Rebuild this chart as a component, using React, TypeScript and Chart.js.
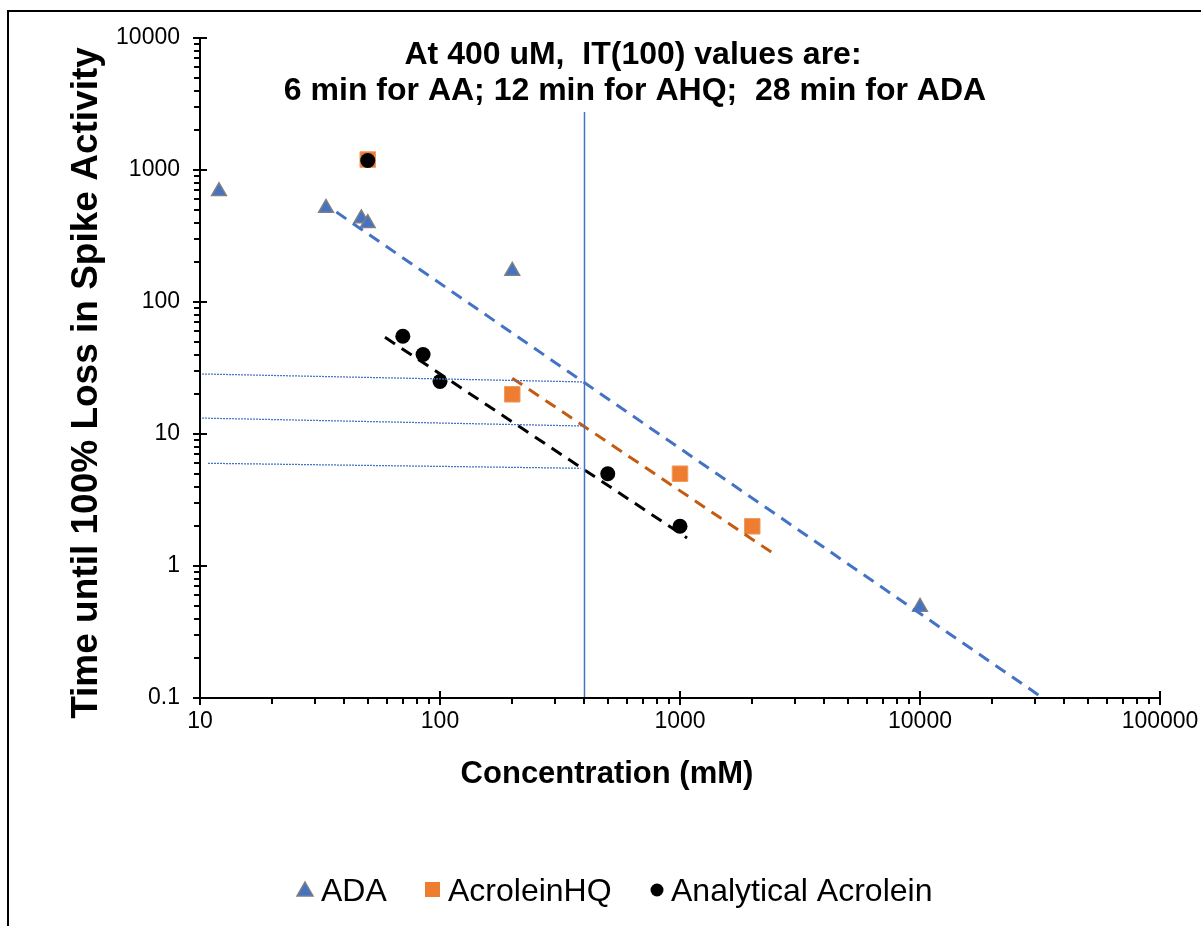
import React, { useEffect, useRef } from 'react';
import { Chart, registerables } from 'chart.js';

Chart.register(...registerables);

// ---- data ----
const seriesNames = ['ADA', 'AcroleinHQ', 'Analytical Acrolein'];

const adaX = [12, 33.5, 47, 50, 200, 10000];
const adaY = [690, 515, 430, 395, 172, 0.49];

const ahqX = [50, 200, 1000, 2000];
const ahqY = [1200, 20, 5, 2];

const aaX = [50, 70, 85, 100, 500, 1000];
const aaY = [1180, 55, 40, 25, 5, 2];

// power trend lines (end points)
const adaTrendX = [37, 32500];
const adaTrendY = [480, 0.1];
const ahqTrendX = [200, 2440];
const ahqTrendY = [26.5, 1.25];
const aaTrendX = [59, 1070];
const aaTrendY = [54, 1.63];

// hand-drawn reference lines
const refVX = [400, 400];
const refVY = [2750, 0.1];
const refAdaX = [10.2, 394];
const refAdaY = [28.5, 24.8];
const refAhqX = [10.2, 390];
const refAhqY = [13.2, 11.5];
const refAaX = [10.8, 385];
const refAaY = [6.0, 5.5];

const xTicks = [10, 100, 1000, 10000, 100000];
const xTickLabels = ['10', '100', '1000', '10000', '100000'];
const yTicks = [0.1, 1, 10, 100, 1000, 10000];
const yTickLabels = ['0.1', '1', '10', '100', '1000', '10000'];

const titleLines = ['At 400 uM,  IT(100) values are:', '6 min for AA; 12 min for AHQ;  28 min for ADA'];
const xTitle = 'Concentration (mM)';
const yTitle = 'Time until 100% Loss in Spike Activity';

const FONT = '"Liberation Sans", Arial, sans-serif';
const BLUE = '#4472C4';
const ORANGE = '#ED7D31';
const ORANGE_DARK = '#C55A11';

const pts = (xs: number[], ys: number[]) => xs.map((x, i) => ({ x, y: ys[i] }));

const overlayPlugin = {
  id: 'overlay',
  afterDraw(chart: any) {
    const { ctx } = chart;
    const xs = chart.scales.x;
    const ys = chart.scales.y;
    ctx.save();
    // outer frame
    ctx.strokeStyle = '#000';
    ctx.lineWidth = 2;
    ctx.beginPath();
    ctx.moveTo(8, 926);
    ctx.lineTo(8, 11);
    ctx.lineTo(1201, 11);
    ctx.stroke();

    // axes
    const ax = Math.round(xs.getPixelForValue(xTicks[0]));
    const ay = Math.round(ys.getPixelForValue(yTicks[0]));
    const yTop = ys.getPixelForValue(yTicks[yTicks.length - 1]);
    const xRight = xs.getPixelForValue(xTicks[xTicks.length - 1]);
    ctx.lineWidth = 2;
    ctx.beginPath();
    ctx.moveTo(ax, yTop - 1);
    ctx.lineTo(ax, ay);
    ctx.lineTo(xRight + 1, ay);
    ctx.stroke();

    // x ticks
    ctx.beginPath();
    xTicks.forEach((v, i) => {
      const px = Math.round(xs.getPixelForValue(v));
      ctx.moveTo(px, ay - 7);
      ctx.lineTo(px, ay + 7);
      if (i < xTicks.length - 1) {
        for (let m = 2; m <= 9; m++) {
          const p = Math.round(xs.getPixelForValue(v * m));
          ctx.moveTo(p, ay);
          ctx.lineTo(p, ay + 6);
        }
      }
    });
    // y ticks
    yTicks.forEach((v, i) => {
      const py = Math.round(ys.getPixelForValue(v));
      ctx.moveTo(ax - 7, py);
      ctx.lineTo(ax + 7, py);
      if (i < yTicks.length - 1) {
        for (let m = 2; m <= 9; m++) {
          const p = Math.round(ys.getPixelForValue(v * m));
          ctx.moveTo(ax - 6, p);
          ctx.lineTo(ax, p);
        }
      }
    });
    ctx.stroke();

    // titles
    ctx.fillStyle = '#000';
    ctx.textAlign = 'center';
    ctx.textBaseline = 'alphabetic';
    ctx.font = `bold 32px ${FONT}`;
    ctx.fillText(titleLines[0], 633, 64);
    ctx.fillText(titleLines[1], 635, 100);
    ctx.font = `bold 31px ${FONT}`;
    ctx.fillText(xTitle, 607, 783);

    ctx.save();
    ctx.translate(97, 383);
    ctx.rotate(-Math.PI / 2);
    ctx.font = `bold 37px ${FONT}`;
    ctx.fillText(yTitle, 0, 0);
    ctx.restore();

    // legend
    const ly = 890;
    ctx.textAlign = 'left';
    ctx.font = `32px ${FONT}`;
    // triangle
    ctx.beginPath();
    ctx.moveTo(305, ly - 8);
    ctx.lineTo(313, ly + 6);
    ctx.lineTo(297, ly + 6);
    ctx.closePath();
    ctx.fillStyle = BLUE;
    ctx.fill();
    ctx.strokeStyle = '#7F7F7F';
    ctx.lineWidth = 1.5;
    ctx.stroke();
    ctx.fillStyle = '#000';
    ctx.fillText(seriesNames[0], 321, 901);
    // square
    ctx.fillStyle = ORANGE;
    ctx.fillRect(425, ly - 8, 15, 15);
    ctx.fillStyle = '#000';
    ctx.fillText(seriesNames[1], 448, 901);
    // circle
    ctx.beginPath();
    ctx.arc(657, ly, 6.5, 0, Math.PI * 2);
    ctx.fill();
    ctx.fillText(seriesNames[2], 671, 901);

    ctx.restore();
  },
};

export default function App() {
  const ref = useRef<HTMLCanvasElement | null>(null);

  useEffect(() => {
    if (!ref.current) return;
    const lineDs = (xs: number[], ys: number[], color: string, width: number, dash: number[]) => ({
      type: 'scatter' as const,
      data: pts(xs, ys),
      showLine: true,
      borderColor: color,
      backgroundColor: color,
      borderWidth: width,
      borderDash: dash,
      pointRadius: 0,
      fill: false,
    });

    const chart = new Chart(ref.current, {
      type: 'scatter',
      data: {
        datasets: [
          lineDs(refVX, refVY, BLUE, 1.5, []),
          lineDs(refAdaX, refAdaY, BLUE, 1.25, [2, 1]),
          lineDs(refAhqX, refAhqY, BLUE, 1.25, [2, 1]),
          lineDs(refAaX, refAaY, BLUE, 1.25, [2, 1]),
          lineDs(aaTrendX, aaTrendY, '#000', 3, [12, 8]),
          lineDs(ahqTrendX, ahqTrendY, ORANGE_DARK, 3, [12, 8]),
          lineDs(adaTrendX, adaTrendY, BLUE, 3, [12, 8]),
          {
            label: seriesNames[2],
            data: pts(aaX, aaY),
            pointStyle: 'circle',
            pointRadius: 7.5,
            backgroundColor: '#000',
            borderColor: '#000',
            borderWidth: 0,
          },
          {
            label: seriesNames[1],
            data: pts(ahqX, ahqY),
            pointStyle: 'rect',
            pointRadius: 11,
            backgroundColor: ORANGE,
            borderColor: '#F19A5E',
            borderWidth: 1,
          },
          {
            label: seriesNames[0],
            data: pts(adaX, adaY),
            pointStyle: 'triangle',
            pointRadius: 8.5,
            backgroundColor: BLUE,
            borderColor: '#7F7F7F',
            borderWidth: 1.5,
          },
        ],
      },
      options: {
        animation: false,
        responsive: false,
        devicePixelRatio: 1,
        events: [],
        layout: { padding: { top: 38, right: 41, left: 0, bottom: 0 } },
        plugins: { legend: { display: false }, tooltip: { enabled: false } },
        scales: {
          x: {
            type: 'logarithmic',
            min: xTicks[0],
            max: xTicks[xTicks.length - 1],
            grid: { display: false, drawTicks: false },
            border: { display: false },
            ticks: {
              color: '#000',
              font: { family: FONT, size: 23 },
              padding: 10,
              autoSkip: false,
              maxRotation: 0,
              callback: (_v: any, i: number) => xTickLabels[i],
            },
            afterBuildTicks: (s: any) => {
              s.ticks = xTicks.map((v) => ({ value: v }));
            },
            afterFit: (s: any) => {
              s.height = 228;
              s.paddingLeft = 0;
              s.paddingRight = 0;
            },
          },
          y: {
            type: 'logarithmic',
            min: yTicks[0],
            max: yTicks[yTicks.length - 1],
            grid: { display: false, drawTicks: false },
            border: { display: false },
            ticks: {
              color: '#000',
              font: { family: FONT, size: 23 },
              padding: 20,
              autoSkip: false,
              callback: (_v: any, i: number) => yTickLabels[i],
            },
            afterBuildTicks: (s: any) => {
              s.ticks = yTicks.map((v) => ({ value: v }));
            },
            afterFit: (s: any) => {
              s.width = 200;
              s.paddingTop = 0;
              s.paddingBottom = 0;
            },
          },
        },
      },
      plugins: [overlayPlugin],
    } as any);
    return () => chart.destroy();
  }, []);

  return (
    <div style={{ position: 'absolute', left: 0, top: 0, width: 1201, height: 926, background: '#fff' }}>
      <canvas ref={ref} width={1201} height={926} style={{ width: 1201, height: 926, display: 'block' }} />
    </div>
  );
}
